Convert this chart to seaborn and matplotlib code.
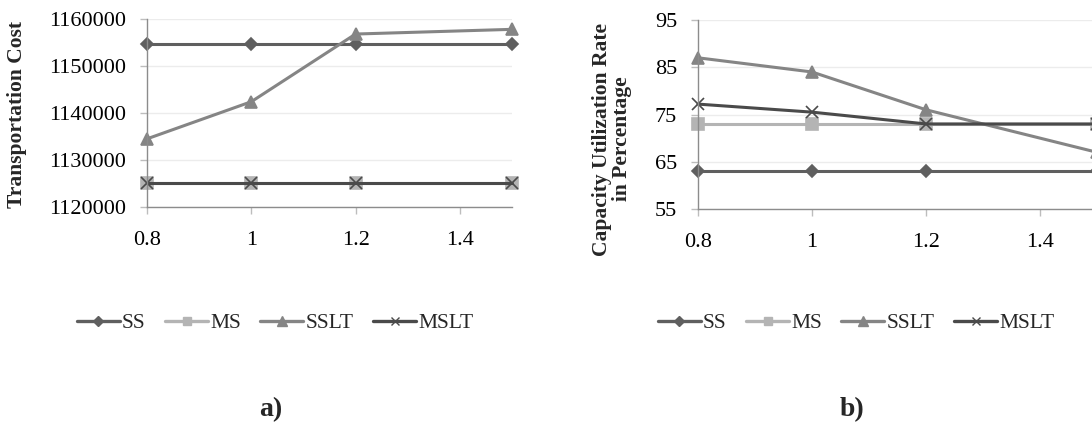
import numpy as np
import pandas as pd
import seaborn as sns
import matplotlib.pyplot as plt
from matplotlib.lines import Line2D

sns.set_theme(style='white')
plt.rcParams['font.family'] = ['Liberation Serif', 'DejaVu Serif']

# data
demand = [0.8, 1.0, 1.2, 1.5]
series = ['SS', 'MS', 'SSLT', 'MSLT']
cost_ss = [1154600, 1154600, 1154600, 1154600]
cost_ms = [1125100, 1125100, 1125100, 1125100]
cost_sslt = [1134500, 1142400, 1156800, 1157800]
cost_mslt = [1125100, 1125100, 1125100, 1125100]
util_ss = [63, 63, 63, 63]
util_ms = [73, 73, 73, 73]
util_sslt = [87, 84, 76, 67]
util_mslt = [77.2, 75.5, 73, 73]

colors = {'SS': '#5f5f5f', 'MS': '#b4b4b4', 'SSLT': '#858585', 'MSLT': '#4a4a4a'}
markers = {'SS': 'D', 'MS': 's', 'SSLT': '^', 'MSLT': 'x'}
msize = {'SS': 6, 'MS': 8, 'SSLT': 9, 'MSLT': 8}


def long_df(vals):
    rows = []
    for name, v in zip(series, vals):
        for x, y in zip(demand, v):
            rows.append({'x': x, 'y': y, 'series': name})
    return pd.DataFrame(rows)


cost = long_df([cost_ss, cost_ms, cost_sslt, cost_mslt])
util = long_df([util_ss, util_ms, util_sslt, util_mslt])

fig = plt.figure(figsize=(10.92, 4.38), dpi=100)
ax1 = fig.add_axes([147 / 1092, 1 - 207 / 438, 365 / 1092, 188 / 438])
ax2 = fig.add_axes([698 / 1092, 1 - 209 / 438, 399 / 1092, 189 / 438])


def draw(ax, df, yticks, ylabel, lab_xy):
    for name in series:
        sub = df[df['series'] == name]
        sns.lineplot(data=sub, x='x', y='y', ax=ax, color=colors[name],
                     marker=markers[name], markersize=msize[name],
                     markeredgecolor=colors[name], markeredgewidth=1.2,
                     linewidth=2.2, clip_on=False, legend=False)
    ax.set_xlim(0.8, 1.5)
    ax.set_ylim(yticks[0], yticks[-1])
    ax.set_xticks([0.8, 1.0, 1.2, 1.4])
    ax.set_xticklabels(['0.8', '1', '1.2', '1.4'])
    ax.set_yticks(yticks)
    ax.set_yticklabels([str(t) for t in yticks])
    ax.tick_params(axis='both', labelsize=16, colors='#bdbdbd', labelcolor='black',
                   length=5, width=1, direction='out', left=True, bottom=True)
    ax.tick_params(axis='x', pad=12)
    ax.tick_params(axis='y', pad=10)
    ax.grid(axis='y', color='#ececec', linewidth=1)
    ax.set_axisbelow(True)
    for s in ['top', 'right']:
        ax.spines[s].set_visible(False)
    for s in ['left', 'bottom']:
        ax.spines[s].set_color('#8c8c8c')
        ax.spines[s].set_linewidth(1)
    ax.set_xlabel('')
    ax.set_ylabel(ylabel, fontsize=15.5, fontweight='bold', linespacing=1.0)
    ax.yaxis.set_label_coords(*lab_xy)


draw(ax1, cost, [1120000, 1130000, 1140000, 1150000, 1160000], 'Transportation Cost',
     (-0.33, 0.49))
draw(ax2, util, [55, 65, 75, 85, 95], 'Capacity Utilization Rate\nin Percentage',
     (-0.165, 0.37))

handles = [Line2D([], [], color=colors[n], marker=markers[n], markersize=msize[n] * 0.8,
                  markeredgecolor=colors[n], linewidth=2.4) for n in series]
for cx, lab in [(275, 'a)'), (856, 'b)')]:
    fig.legend(handles, series, loc='center', bbox_to_anchor=(cx / 1092, 1 - 323 / 438),
               ncol=4, frameon=False, fontsize=15.5, handlelength=2.0, handletextpad=0.1,
               columnspacing=0.9)
    fig.text(cx / 1092 - 0.004, 1 - 410 / 438, lab, fontsize=20, fontweight='bold',
             ha='center', va='center')

fig.savefig('out.png', dpi=100)
